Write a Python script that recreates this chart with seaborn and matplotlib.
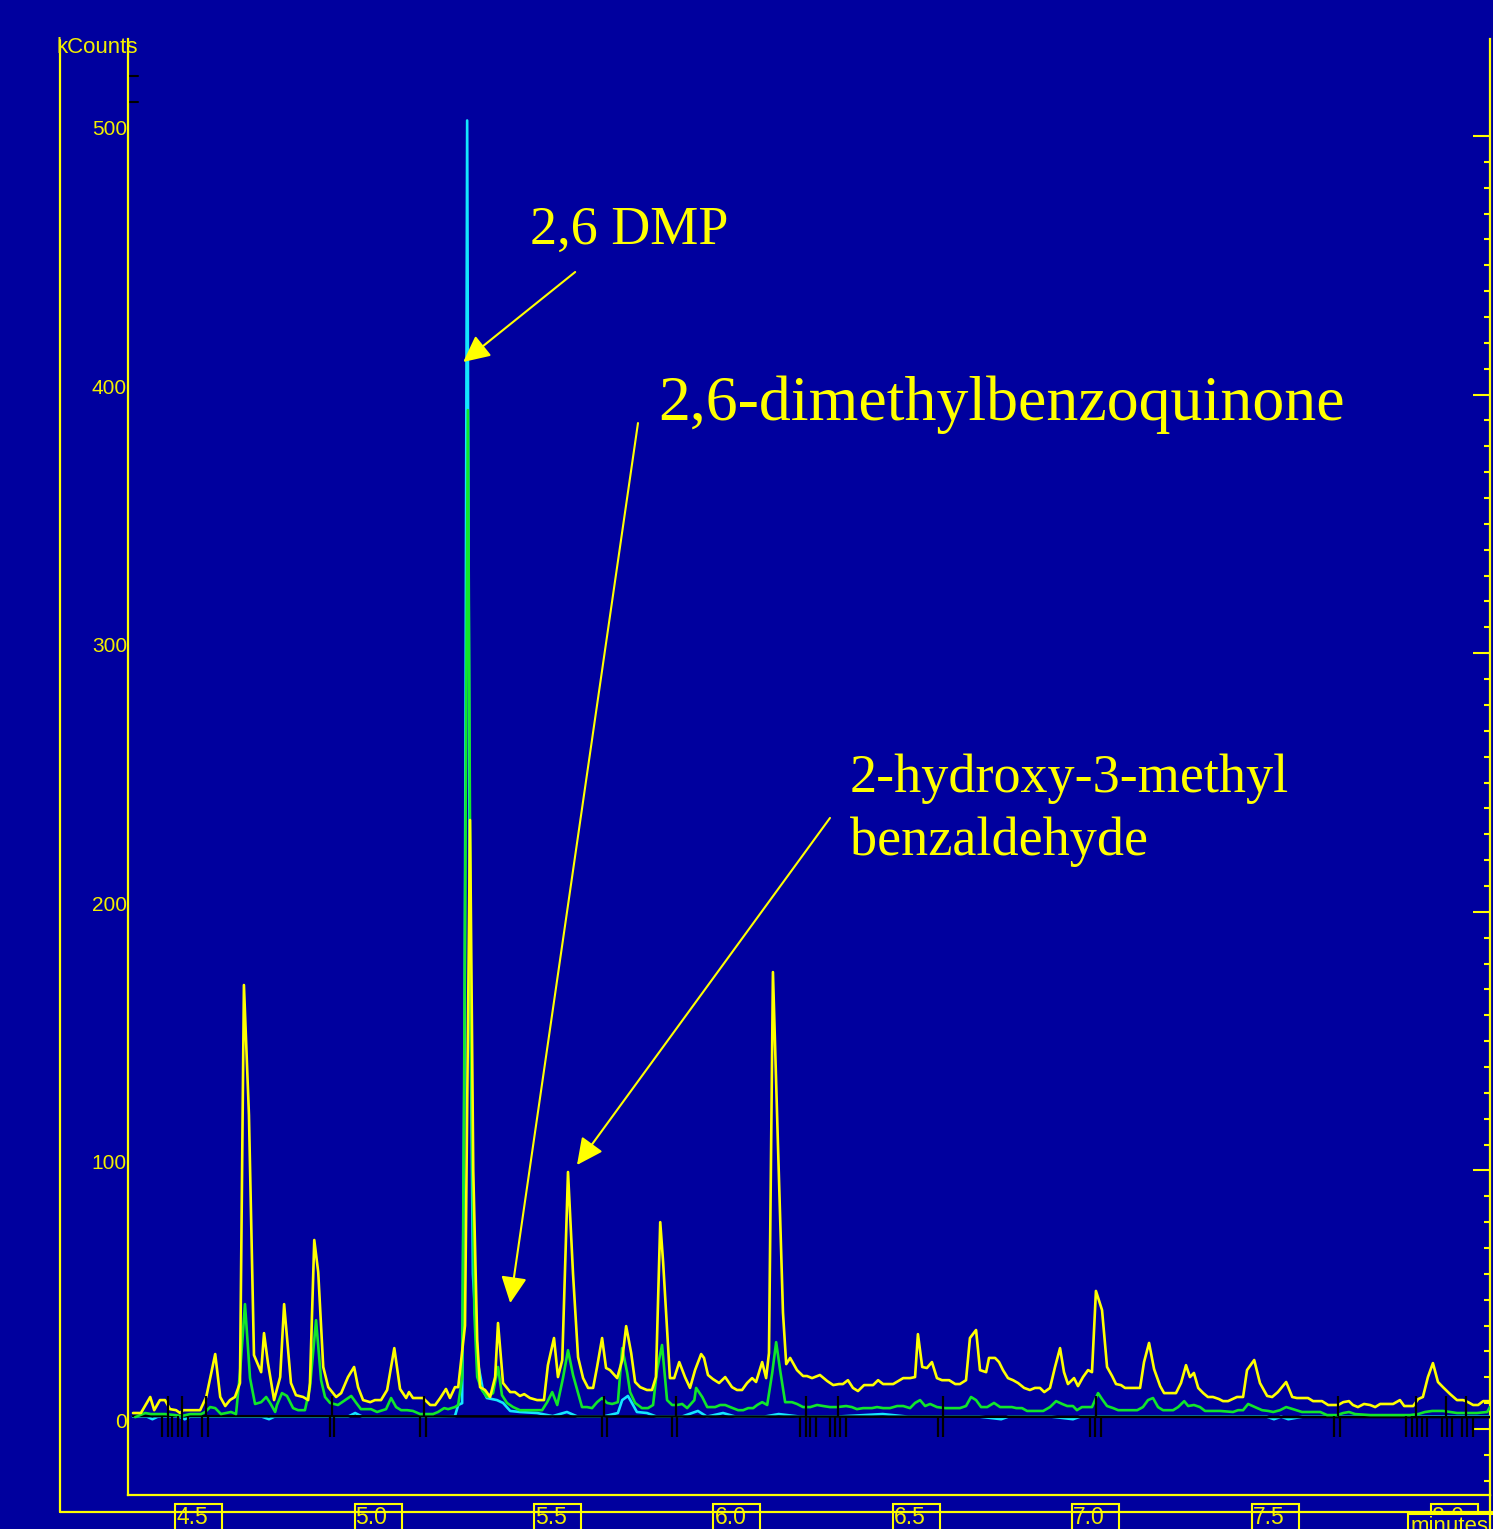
import numpy as np
import pandas as pd
import matplotlib
matplotlib.use("Agg")
import matplotlib.pyplot as plt
from matplotlib.lines import Line2D
from matplotlib.patches import Rectangle
import seaborn as sns

# ---------------- data (retention time in minutes, intensity in kCounts) ----------------
yellow_time = [4.341, 4.363, 4.389, 4.400, 4.416, 4.430, 4.444, 4.461, 4.472, 4.481, 4.528, 4.545,
               4.570, 4.584, 4.598, 4.611, 4.625, 4.639, 4.650, 4.664, 4.678, 4.698, 4.706, 4.717,
               4.734, 4.751, 4.762, 4.781, 4.795, 4.815, 4.829, 4.834, 4.846, 4.857, 4.871, 4.885,
               4.907, 4.921, 4.940, 4.957, 4.968, 4.982, 5.002, 5.015, 5.032, 5.049, 5.069, 5.085,
               5.102, 5.110, 5.121, 5.149, 5.169, 5.183, 5.197, 5.213, 5.224, 5.238, 5.247, 5.266,
               5.280, 5.289, 5.300, 5.308, 5.322, 5.336, 5.350, 5.358, 5.372, 5.392, 5.405, 5.419,
               5.431, 5.447, 5.467, 5.486, 5.497, 5.514, 5.525, 5.537, 5.553, 5.567, 5.581, 5.595,
               5.609, 5.623, 5.634, 5.648, 5.659, 5.670, 5.690, 5.704, 5.715, 5.729, 5.740, 5.754,
               5.773, 5.787, 5.798, 5.810, 5.818, 5.837, 5.849, 5.863, 5.879, 5.893, 5.907, 5.924,
               5.932, 5.943, 5.957, 5.974, 5.991, 6.010, 6.024, 6.038, 6.052, 6.066, 6.077, 6.094,
               6.105, 6.113, 6.124, 6.138, 6.152, 6.161, 6.172, 6.191, 6.208, 6.219, 6.233, 6.255,
               6.275, 6.292, 6.308, 6.319, 6.333, 6.347, 6.361, 6.378, 6.403, 6.417, 6.431, 6.459,
               6.487, 6.506, 6.520, 6.528, 6.540, 6.553, 6.567, 6.581, 6.595, 6.615, 6.632, 6.645,
               6.662, 6.673, 6.690, 6.701, 6.718, 6.726, 6.743, 6.754, 6.765, 6.779, 6.793, 6.807,
               6.824, 6.840, 6.854, 6.868, 6.880, 6.896, 6.910, 6.924, 6.935, 6.946, 6.963, 6.974,
               6.988, 7.002, 7.013, 7.024, 7.041, 7.055, 7.069, 7.080, 7.094, 7.105, 7.147, 7.158,
               7.172, 7.186, 7.203, 7.214, 7.247, 7.261, 7.275, 7.286, 7.297, 7.309, 7.323, 7.336,
               7.350, 7.367, 7.378, 7.392, 7.417, 7.434, 7.445, 7.465, 7.481, 7.501, 7.515, 7.531,
               7.554, 7.571, 7.584, 7.615, 7.629, 7.654, 7.671, 7.699, 7.713, 7.729, 7.740, 7.754,
               7.771, 7.788, 7.802, 7.816, 7.852, 7.871, 7.883, 7.908, 7.922, 7.935, 7.949, 7.963,
               7.977, 7.991, 8.011, 8.030, 8.047, 8.061, 8.075, 8.089, 8.103, 8.122]
yellow_kcounts = [6.2, 6.2, 12.4, 7.3, 11.2, 11.2, 7.7, 7.3, 6.2, 7.3, 7.3, 12.4,
                  29.0, 12.4, 8.9, 11.2, 12.4, 17.8, 171.7, 121.4, 28.6, 22.0, 37.1, 25.5,
                  11.2, 20.1, 48.3, 17.8, 13.1, 12.4, 11.2, 17.8, 73.1, 60.7, 24.0, 16.2,
                  12.4, 13.9, 20.1, 24.0, 16.2, 11.2, 10.4, 11.2, 11.2, 15.1, 31.3, 15.5,
                  12.0, 14.3, 12.0, 12.0, 9.3, 9.3, 12.0, 15.5, 12.0, 16.2, 16.2, 40.0,
                  235.5, 100.0, 34.4, 16.2, 15.1, 12.4, 20.1, 41.0, 17.8, 14.3, 14.3, 12.8,
                  13.5, 12.0, 11.2, 11.2, 24.7, 35.2, 20.1, 26.7, 99.4, 60.0, 27.8, 19.7,
                  15.9, 15.9, 24.0, 35.2, 23.6, 22.8, 19.7, 26.7, 39.8, 29.4, 18.2, 16.2,
                  15.1, 15.1, 20.1, 80.0, 64.6, 19.7, 19.7, 25.9, 20.1, 15.9, 22.8, 29.0,
                  27.5, 20.9, 19.3, 17.8, 20.1, 16.2, 15.1, 15.1, 17.8, 19.7, 18.2, 25.9,
                  19.7, 29.4, 176.7, 110.0, 45.0, 25.1, 27.5, 22.8, 20.5, 20.5, 19.7, 20.9,
                  18.6, 17.0, 17.4, 17.4, 18.9, 15.9, 14.7, 17.0, 17.0, 18.9, 17.4, 17.4,
                  19.7, 19.7, 20.1, 36.7, 24.0, 23.6, 25.9, 19.7, 18.9, 18.9, 17.4, 17.4,
                  18.9, 35.2, 38.3, 22.8, 22.0, 27.5, 27.5, 25.9, 22.8, 19.7, 18.9, 17.8,
                  15.9, 15.1, 15.9, 15.9, 14.3, 15.9, 24.0, 31.3, 22.0, 17.4, 19.7, 16.6,
                  20.1, 22.8, 22.0, 53.4, 46.0, 24.0, 20.5, 17.4, 17.0, 15.9, 15.9, 25.9,
                  33.3, 23.2, 16.6, 13.9, 13.9, 17.8, 24.7, 20.1, 21.7, 15.9, 13.9, 12.4,
                  12.4, 11.6, 10.8, 10.8, 12.4, 12.4, 22.8, 26.7, 17.8, 12.8, 12.4, 14.3,
                  18.2, 12.4, 12.0, 12.0, 10.8, 10.8, 9.3, 9.3, 10.4, 10.8, 9.3, 8.5,
                  9.7, 9.3, 8.5, 9.7, 9.7, 11.2, 8.9, 8.9, 11.6, 12.4, 20.1, 25.5,
                  18.2, 16.2, 13.5, 11.2, 11.2, 10.4, 9.3, 9.3, 10.8, 10.8]

green_time = [4.347, 4.375, 4.391, 4.430, 4.458, 4.475, 4.500, 4.531, 4.542, 4.556, 4.570, 4.586,
              4.600, 4.614, 4.628, 4.639, 4.653, 4.667, 4.681, 4.698, 4.712, 4.723, 4.737, 4.742,
              4.756, 4.770, 4.787, 4.801, 4.820, 4.834, 4.851, 4.865, 4.876, 4.890, 4.912, 4.932,
              4.949, 4.963, 4.976, 5.004, 5.021, 5.046, 5.060, 5.074, 5.088, 5.105, 5.121, 5.141,
              5.177, 5.191, 5.208, 5.219, 5.238, 5.247, 5.258, 5.263, 5.274, 5.283, 5.292, 5.300,
              5.313, 5.327, 5.344, 5.358, 5.369, 5.383, 5.400, 5.419, 5.481, 5.495, 5.509, 5.523,
              5.539, 5.553, 5.567, 5.592, 5.606, 5.620, 5.634, 5.648, 5.662, 5.676, 5.692, 5.704,
              5.718, 5.726, 5.740, 5.759, 5.776, 5.790, 5.801, 5.815, 5.829, 5.843, 5.857, 5.871,
              5.885, 5.905, 5.910, 5.927, 5.941, 5.963, 5.977, 5.991, 6.005, 6.027, 6.041, 6.055,
              6.069, 6.080, 6.094, 6.108, 6.122, 6.133, 6.144, 6.158, 6.177, 6.191, 6.208, 6.228,
              6.247, 6.264, 6.283, 6.303, 6.328, 6.344, 6.358, 6.375, 6.400, 6.414, 6.431, 6.450,
              6.470, 6.487, 6.506, 6.520, 6.534, 6.548, 6.562, 6.581, 6.604, 6.645, 6.662, 6.676,
              6.690, 6.704, 6.721, 6.740, 6.757, 6.790, 6.802, 6.818, 6.832, 6.877, 6.896, 6.913,
              6.930, 6.944, 6.960, 6.971, 6.985, 7.013, 7.030, 7.041, 7.055, 7.072, 7.086, 7.139,
              7.155, 7.169, 7.183, 7.197, 7.211, 7.239, 7.253, 7.270, 7.281, 7.297, 7.314, 7.328,
              7.370, 7.406, 7.420, 7.434, 7.448, 7.467, 7.487, 7.504, 7.518, 7.537, 7.554, 7.573,
              7.598, 7.649, 7.668, 7.696, 7.713, 7.729, 7.746, 7.788, 7.899, 7.922, 7.941, 7.961,
              7.991, 8.011, 8.030, 8.086, 8.114, 8.122]
green_kcounts = [4.6, 6.2, 5.8, 5.8, 5.4, 5.0, 5.8, 5.8, 6.6, 8.5, 8.1, 5.8,
                 6.2, 6.6, 5.8, 21.7, 48.3, 19.7, 9.7, 10.4, 12.4, 10.1, 6.6, 9.3,
                 13.9, 12.8, 8.1, 7.3, 7.3, 16.2, 42.1, 18.9, 12.4, 10.1, 9.3, 11.2,
                 12.8, 10.1, 7.7, 7.7, 6.6, 7.7, 12.0, 8.5, 7.3, 7.3, 7.0, 5.8,
                 5.8, 6.6, 8.1, 7.7, 8.5, 9.3, 20.0, 120.0, 394.0, 150.0, 45.0, 20.1,
                 15.1, 12.4, 13.9, 24.0, 13.1, 10.1, 8.5, 7.3, 7.3, 10.4, 14.3, 9.3,
                 19.7, 30.5, 20.9, 8.5, 8.5, 8.1, 10.4, 12.0, 10.1, 9.7, 10.4, 31.3,
                 21.7, 14.3, 10.1, 8.1, 8.1, 9.3, 22.8, 32.5, 11.2, 9.3, 9.3, 9.7,
                 8.1, 11.2, 15.9, 12.4, 8.5, 8.5, 9.3, 9.3, 8.5, 7.3, 7.3, 8.1,
                 8.1, 9.3, 10.4, 9.3, 21.7, 33.6, 22.8, 10.4, 10.4, 9.7, 8.5, 8.5,
                 9.3, 8.9, 8.5, 8.5, 8.9, 8.5, 7.7, 8.1, 8.1, 8.5, 8.1, 8.1,
                 8.9, 8.9, 8.1, 10.1, 11.2, 8.9, 9.7, 8.5, 8.1, 8.1, 8.9, 12.4,
                 11.2, 8.5, 8.5, 10.1, 8.5, 8.5, 8.1, 8.1, 7.0, 7.0, 8.5, 10.8,
                 9.7, 8.9, 8.9, 7.3, 8.5, 8.5, 13.9, 11.6, 8.9, 8.1, 7.3, 7.3,
                 8.5, 11.2, 12.0, 8.5, 7.3, 7.3, 8.5, 10.8, 8.9, 9.3, 8.5, 7.0,
                 7.0, 6.6, 7.3, 7.3, 9.7, 8.5, 7.3, 7.0, 6.6, 7.3, 8.5, 7.7,
                 6.6, 6.6, 5.4, 5.4, 6.2, 6.6, 5.8, 5.4, 5.4, 5.8, 6.6, 7.0,
                 7.0, 6.6, 6.2, 6.2, 6.6, 8.5]

cyan_time = [4.341, 4.380, 4.395, 4.410, 4.440, 4.470, 4.485, 4.500, 4.530, 4.560, 4.600, 4.650,
             4.700, 4.720, 4.735, 4.760, 4.800, 4.850, 4.900, 4.940, 4.960, 4.980, 5.020, 5.100,
             5.190, 5.238, 5.247, 5.258, 5.265, 5.272, 5.279, 5.288, 5.302, 5.316, 5.327, 5.355,
             5.372, 5.392, 5.419, 5.467, 5.510, 5.550, 5.580, 5.650, 5.692, 5.704, 5.720, 5.731,
             5.745, 5.773, 5.800, 5.870, 5.915, 5.940, 5.985, 6.020, 6.100, 6.140, 6.200, 6.300,
             6.430, 6.500, 6.600, 6.700, 6.760, 6.780, 6.800, 6.900, 6.960, 6.980, 7.000, 7.100,
             7.200, 7.300, 7.400, 7.500, 7.520, 7.540, 7.560, 7.600, 7.700, 7.800, 7.900, 8.000,
             8.122]
cyan_kcounts = [4.8, 4.8, 3.8, 4.8, 4.8, 4.8, 3.8, 4.8, 4.8, 4.8, 4.8, 4.8,
                4.8, 3.8, 4.8, 4.8, 4.8, 4.8, 4.8, 4.8, 6.2, 4.8, 4.8, 4.8,
                4.8, 5.0, 9.3, 10.0, 150.0, 506.0, 200.0, 60.0, 25.5, 15.1, 12.0, 11.2,
                10.1, 7.0, 6.6, 6.2, 5.0, 6.6, 4.8, 4.8, 6.2, 11.2, 12.8, 10.1,
                6.6, 6.2, 4.8, 4.8, 7.0, 4.8, 6.2, 4.8, 4.8, 5.8, 4.8, 4.8,
                5.8, 4.8, 4.8, 4.8, 3.8, 4.8, 4.8, 4.8, 3.8, 4.8, 4.8, 4.8,
                4.8, 4.8, 4.8, 4.8, 3.8, 4.8, 3.8, 4.8, 4.8, 4.8, 4.8, 4.8,
                4.8]

baseline_time = [4.341, 8.122]
baseline_kcounts = [5.0, 4.6]

event_marks = [4.422, 4.439, 4.450, 4.467, 4.478, 4.494, 4.533, 4.550, 4.890, 4.901, 5.141, 5.158,
               5.648, 5.662, 5.843, 5.857, 6.200, 6.216, 6.227, 6.244, 6.283, 6.297, 6.311, 6.328,
               6.584, 6.598, 7.008, 7.022, 7.038, 7.688, 7.704, 7.888, 7.905, 7.919, 7.932, 7.947,
               7.988, 8.002, 8.016, 8.044, 8.058, 8.075]
apex_marks = [4.439, 4.478, 4.545, 4.896, 5.152, 5.654, 5.854, 6.216, 6.306, 6.598, 7.024, 7.699,
              7.916, 8.000, 8.055]

y_major = [0, 100, 200, 300, 400, 500]
y_labels = ["0", "100", "200", "300", "400", "500"]
y_minor = list(range(-20, 501, 10))
y_upper_marks = [513, 523]
x_major = [4.5, 5.0, 5.5, 6.0, 6.5, 7.0, 7.5, 8.0]
x_labels = ["4.5", "5.0", "5.5", "6.0", "6.5", "7.0", "7.5", "8.0"]
x_minor = [round(4.35 + 0.05 * i, 2) for i in range(76)]

annotations = [
    # label lines, text anchor (min, kCounts), font size, arrow tail, arrow head
    (["2,6 DMP"], (5.447, 458.2), 39, (5.573, 447.4), (5.261, 412.6)),
    (["2,6-dimethylbenzoquinone"], (5.804, 390.2), 46, (5.748, 389.0), (5.392, 48.7)),
    (["2-hydroxy-3-methyl", "benzaldehyde"], (6.339, 246.3), 39, (6.283, 236.3), (5.578, 102.1)),
]

# ---------------- style ----------------
NAVY = "#00009e"
YEL = "#ffff00"
TXT = "#f2ee00"
GREEN = "#12e62a"
CYAN = "#14e6ff"

sns.set_theme(style="dark", rc={"axes.facecolor": NAVY, "figure.facecolor": NAVY,
                                "axes.grid": False})
plt.rcParams["font.family"] = ["Liberation Sans", "DejaVu Sans"]

fig = plt.figure(figsize=(14.93, 15.29), dpi=100)
ax = fig.add_axes([128 / 1493, 1 - 1495 / 1529, 1362 / 1493, 1456 / 1529])
ax.set_facecolor(NAVY)

df_c = pd.DataFrame({"t": cyan_time, "v": cyan_kcounts})
df_g = pd.DataFrame({"t": green_time, "v": green_kcounts})
df_y = pd.DataFrame({"t": yellow_time, "v": yellow_kcounts})

sns.lineplot(data=df_c, x="t", y="v", ax=ax, color=CYAN, lw=1.9, estimator=None, sort=False, zorder=3)
ax.plot(baseline_time, baseline_kcounts, color="black", lw=1.8, zorder=4)
sns.lineplot(data=df_g, x="t", y="v", ax=ax, color=GREEN, lw=1.9, estimator=None, sort=False, zorder=5)
sns.lineplot(data=df_y, x="t", y="v", ax=ax, color=YEL, lw=1.9, estimator=None, sort=False, zorder=6)

base_level = baseline_kcounts[0]
ax.vlines(event_marks, -3.1, base_level, colors="black", lw=1.6, zorder=8)
ax.vlines(apex_marks, base_level, 12.8, colors="black", lw=1.6, zorder=8)

ax.set_xlim(4.327, 8.122)
ax.set_ylim(-25.5, 537.5)
ax.set_xlabel("")
ax.set_ylabel("")

for s in ["top", "right"]:
    ax.spines[s].set_visible(False)
for s in ["left", "bottom"]:
    ax.spines[s].set_color(YEL)
    ax.spines[s].set_linewidth(1.6)

ax.set_xticks(x_major)
ax.set_xticks(x_minor, minor=True)
ax.set_yticks(y_major)
ax.set_yticks(y_minor, minor=True)
ax.tick_params(axis="x", which="major", direction="out", length=12.2, width=1.5, color=YEL,
               labelbottom=False)
ax.tick_params(axis="x", which="minor", direction="out", length=4.3, width=1.5, color=YEL)
ax.tick_params(axis="y", which="major", direction="out", length=11.5, width=1.5, color=YEL,
               labelleft=False)
ax.tick_params(axis="y", which="minor", direction="out", length=5.0, width=1.5, color=YEL)

sec = ax.secondary_yaxis("right")
sec.set_yticks(y_major)
sec.set_yticks(y_minor, minor=True)
sec.tick_params(axis="y", which="major", direction="in", length=12.2, width=1.5, color=YEL,
                labelright=False)
sec.tick_params(axis="y", which="minor", direction="in", length=4.6, width=1.5, color=YEL)
sec.spines["right"].set_color(YEL)
sec.spines["right"].set_linewidth(1.6)
sec.set_yticklabels([])

# black inner marks at the top of the left axis
ytr = ax.get_yaxis_transform()
for v in y_upper_marks:
    ax.plot([0.0015, 0.0075], [v, v], transform=ytr, color="black", lw=1.5, clip_on=False, zorder=9)

# y tick labels
for v, lab in zip(y_major, y_labels):
    ax.text(-0.0008, v + 0.4, lab, transform=ytr, ha="right", va="baseline", color=TXT,
            fontsize=15, zorder=10)

# x tick labels in boxes
xtr = ax.get_xaxis_transform()
px_t = 1 / 358.9
px_a = 1 / 1456
for v, lab in zip(x_major, x_labels):
    ax.add_patch(Rectangle((v - 15 * px_t, -0.06), 47 * px_t, 0.06 - 9 * px_a, transform=xtr,
                           facecolor="none", edgecolor=YEL, lw=1.5, clip_on=False, zorder=10))
    ax.text(v - 14 * px_t, -11 * px_a, lab, transform=xtr, ha="left", va="top", color=TXT,
            fontsize=16.5, zorder=11)

ax.add_patch(Rectangle((7.894, -0.06), 0.3, 0.06 - 19 * px_a, transform=xtr,
                       facecolor=NAVY, edgecolor=YEL, lw=1.5, clip_on=False, zorder=12))
ax.text(7.900, -21 * px_a, "minutes", transform=xtr, ha="left", va="top", color=TXT,
        fontsize=16, zorder=13)

# outer frame lines and kCounts label
def fx(px):
    return px / 1493

def fy(py):
    return 1 - py / 1529

fig.add_artist(Line2D([fx(60), fx(60)], [fy(40), fy(1512)], transform=fig.transFigure,
                      color=YEL, lw=1.6))
fig.add_artist(Line2D([fx(60), fx(1493)], [fy(1512), fy(1512)], transform=fig.transFigure,
                      color=YEL, lw=1.6))
fig.add_artist(Line2D([fx(1490), fx(1490)], [fy(1495), fy(1529)], transform=fig.transFigure,
                      color=YEL, lw=1.6))
fig.text(fx(57), fy(53), "kCounts", ha="left", va="baseline", color=TXT, fontsize=16)

# annotations
for lines, (tx, ty), fsize, tail, head in annotations:
    for i, line in enumerate(lines):
        ax.text(tx, ty - i * 24.3, line, ha="left", va="baseline", color=YEL, fontsize=fsize,
                family=["Liberation Serif", "DejaVu Serif"], zorder=12)
    ax.annotate("", xy=head, xytext=tail,
                arrowprops=dict(arrowstyle="-|>,head_length=0.45,head_width=0.22",
                                mutation_scale=36, color=YEL, lw=1.5,
                                shrinkA=0, shrinkB=0), zorder=12)

fig.savefig("out.png", dpi=100, facecolor=NAVY)
